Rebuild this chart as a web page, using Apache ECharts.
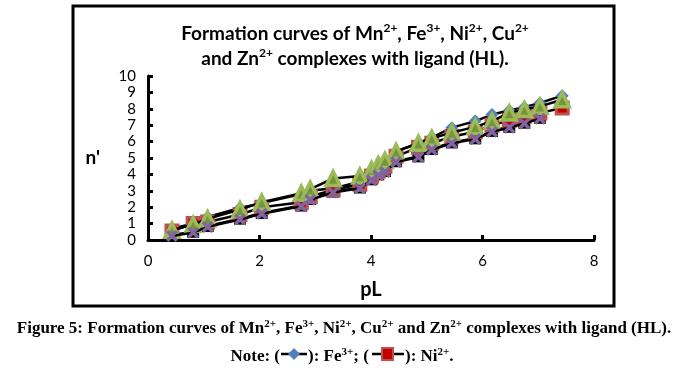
<!DOCTYPE html>
<html><head><meta charset="utf-8">
<script src="https://cdn.jsdelivr.net/npm/echarts@6/dist/echarts.min.js"></script>
<style>html,body{margin:0;padding:0;background:#fff}#c{width:686px;height:375px}</style>
</head><body><div id="c"></div>
<script>
const pL = [0.43, 0.81, 1.07, 1.65, 2.04, 2.75, 2.91, 3.32, 3.80, 4.01, 4.13, 4.25, 4.45, 4.85, 5.09, 5.45, 5.87, 6.17, 6.48, 6.75, 7.03, 7.43];
const fe = [0.7, 1.0, 1.4, 1.95, 2.25, 2.8, 3.0, 3.15, 3.55, 4.1, 4.4, 4.7, 5.4, 5.9, 6.25, 6.85, 7.25, 7.65, 7.9, 8.1, 8.35, 8.8];
const ni = [0.55, 1.0, 1.1, 1.55, 2.0, 2.3, 2.65, 3.05, 3.4, 3.9, 4.2, 4.5, 5.1, 5.65, 5.9, 6.3, 6.6, 7.0, 7.3, 7.55, 7.75, 8.05];
const cu = [0.6, 0.95, 1.3, 1.85, 2.3, 2.85, 3.1, 3.75, 3.9, 4.3, 4.6, 4.85, 5.4, 5.9, 6.2, 6.55, 6.9, 7.25, 7.75, 7.95, 8.15, 8.55];
const zn = [0.3, 0.5, 0.85, 1.3, 1.65, 2.1, 2.5, 2.95, 3.2, 3.7, 4.0, 4.2, 4.8, 5.1, 5.55, 5.95, 6.2, 6.65, 6.9, 7.15, 7.45];
const mn = [0.25, 0.45, 0.8, 1.25, 1.6, 2.05, 2.45, 2.9, 3.15, 3.65, 3.95, 4.15, 4.75, 5.05, 5.5, 5.9, 6.15, 6.6, 6.85, 7.1, 7.4];
const xTicks = [0, 2, 4, 6, 8];
const yTicks = [0, 1, 2, 3, 4, 5, 6, 7, 8, 9, 10];

const pair = (ys) => ys.map((y, i) => [pL[i], y]);
const X_PATH = 'path://M0,2 L2,0 L5,3 L8,0 L10,2 L7,5 L10,8 L8,10 L5,7 L2,10 L0,8 L3,5 Z';
const line = {color: '#000', width: 2.5};
function s(name, data, symbol, size, fill, border, bw, z) {
  return {name, type: 'line', data: pair(data), symbol, symbolSize: size, z: z,
    lineStyle: line, itemStyle: {color: fill, borderColor: border, borderWidth: bw},
    emphasis: {disabled: true}, animation: false};
}
const chart = echarts.init(document.getElementById('c'));
const titleRich = {
  t: {fontFamily: 'Lato', fontWeight: 'bold', fontSize: 19, color: '#000', lineHeight: 26},
  s: {fontFamily: 'Lato', fontWeight: 'bold', fontSize: 12, color: '#000', lineHeight: 26, padding: [0, 0, 11, 0]}
};
const capRich = {
  t: {fontFamily: 'Liberation Serif', fontWeight: 'bold', fontSize: 17, color: '#000'},
  s: {fontFamily: 'Liberation Serif', fontWeight: 'bold', fontSize: 11, color: '#000', padding: [0, 0, 9, 0]}
};
chart.setOption({
  animation: false,
  grid: {left: 148, top: 76, right: 92, bottom: 135},
  xAxis: {type: 'value', min: 0, max: 8, interval: 2,
    name: 'pL', nameLocation: 'middle', nameGap: 40,
    nameTextStyle: {fontFamily: 'Lato', fontWeight: 'bold', fontSize: 20, color: '#000'},
    axisLine: {lineStyle: {color: '#000', width: 3}},
    axisTick: {inside: true, length: 5, lineStyle: {color: '#000', width: 3}},
    axisLabel: {fontFamily: 'Lato', fontSize: 15, color: '#000', margin: 14, formatter: v => xTicks.includes(v) ? String(v) : ''},
    splitLine: {show: false}},
  yAxis: {type: 'value', min: 0, max: 10, interval: 1,
    name: "n'", nameLocation: 'middle', nameGap: 48, nameRotate: 0,
    nameTextStyle: {fontFamily: 'Lato', fontWeight: 'bold', fontSize: 19, color: '#000'},
    axisLine: {show: true, lineStyle: {color: '#000', width: 3}},
    axisTick: {show: true, inside: true, length: 5, lineStyle: {color: '#000', width: 3}},
    axisLabel: {fontFamily: 'Lato', fontSize: 15, color: '#000', margin: 12, lineHeight: 15, formatter: v => yTicks.includes(v) ? String(v) : ''},
    splitLine: {show: false}},
  series: [
    s('Zn2+ bg', zn, 'rect', 12, '#000', '#000', 0, 2),
    s('Fe3+', fe, 'diamond', 13, '#4F81BD', '#4F81BD', 0, 3),
    s('Ni2+', ni, 'rect', 12, '#C00000', '#C0504D', 3, 4),
    s('Cu2+', cu, 'triangle', 14, '#77933C', '#9BBB59', 3.5, 5),
    s('Mn2+', mn, X_PATH, 12, '#8064A2', '#8064A2', 0, 6)
  ],
  graphic: [
    {type: 'rect', shape: {x: 73, y: 6, width: 541, height: 300}, style: {fill: 'none', stroke: '#000', lineWidth: 3}, z: -1},
    {type: 'text', x: 355, y: 34, style: {text: '{t|Formation curves of Mn}{s|2+}{t|, Fe}{s|3+}{t|, Ni}{s|2+}{t|, Cu}{s|2+}', rich: titleRich, align: 'center', verticalAlign: 'middle'}},
    {type: 'text', x: 355, y: 59, style: {text: '{t|and Zn}{s|2+}{t| complexes with ligand (HL).}', rich: titleRich, align: 'center', verticalAlign: 'middle'}},
    {type: 'text', x: 344, y: 329, style: {text: '{t|Figure 5: Formation curves of Mn}{s|2+}{t|, Fe}{s|3+}{t|, Ni}{s|2+}{t|, Cu}{s|2+}{t| and Zn}{s|2+}{t| complexes with ligand (HL).}', rich: capRich, align: 'center', verticalAlign: 'middle'}},
    {type: 'text', x: 280, y: 357, style: {text: '{t|Note: (}', rich: capRich, align: 'right', verticalAlign: 'middle'}},
    {type: 'text', x: 308, y: 357, style: {text: '{t|): Fe}{s|3+}{t|; (}', rich: capRich, align: 'left', verticalAlign: 'middle'}},
    {type: 'text', x: 405, y: 357, style: {text: '{t|): Ni}{s|2+}{t|.}', rich: capRich, align: 'left', verticalAlign: 'middle'}},
    {type: 'line', shape: {x1: 281, y1: 354, x2: 307, y2: 354}, style: {stroke: '#000', lineWidth: 2.5}},
    {type: 'polygon', shape: {points: [[294, 348], [300, 354], [294, 360], [288, 354]]}, style: {fill: '#4F81BD'}},
    {type: 'line', shape: {x1: 372, y1: 354, x2: 404, y2: 354}, style: {stroke: '#000', lineWidth: 2.5}},
    {type: 'rect', shape: {x: 382, y: 348, width: 11, height: 12}, style: {fill: '#C00000', stroke: '#C0504D', lineWidth: 2}}
  ]
});
</script></body></html>
